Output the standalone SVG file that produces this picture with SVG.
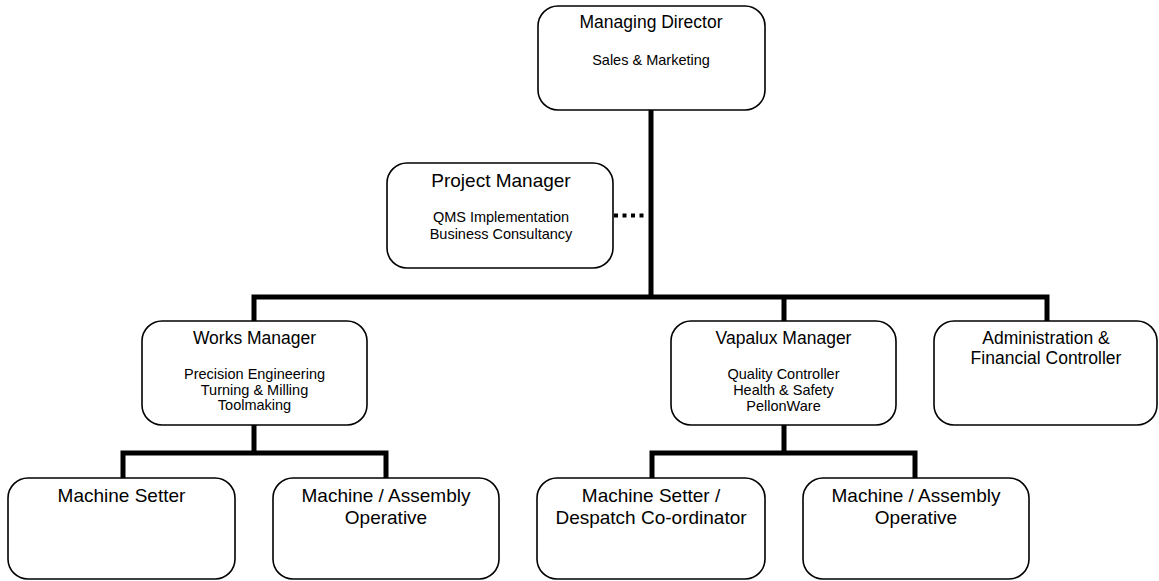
<svg xmlns="http://www.w3.org/2000/svg" width="1159" height="581" viewBox="0 0 1159 581">
  <style>
    .box { fill: #ffffff; stroke: #000000; stroke-width: 1.6; }
    .link { fill: none; stroke: #000000; stroke-width: 5; stroke-linejoin: miter; stroke-linecap: square; }
    .dots { fill: none; stroke: #000000; stroke-width: 4; stroke-dasharray: 4 4.5; }
    text { font-family: "Liberation Sans", Arial, sans-serif; fill: #000000; text-anchor: middle; }
    .t { font-size: 17.5px; }
    .tl { font-size: 19px; }
    .s { font-size: 14.5px; }
  </style>
  <rect width="1159" height="581" fill="#ffffff"/>

  <!-- reporting lines -->
  <g id="connectors">
    <path class="link" d="M651 110 V297 M254 321 V297 H1047 V321 M784 297 V321"/>
    <path class="link" d="M254 425 V453 M123 478 V453 H386 V478"/>
    <path class="link" d="M784 425 V453 M652 478 V453 H915 V478"/>
    <line class="dots" x1="614" y1="215.5" x2="648" y2="215.5"/>
  </g>

  <g id="managing-director">
    <rect class="box" x="538" y="6" width="227" height="104" rx="20"/>
    <text class="t" x="651" y="28">Managing Director</text>
    <text class="s" x="651" y="65">Sales &amp; Marketing</text>
  </g>

  <g id="project-manager">
    <rect class="box" x="387" y="163" width="226" height="105" rx="20"/>
    <text class="tl" x="501" y="187">Project Manager</text>
    <text class="s" x="501" y="222">QMS Implementation</text>
    <text class="s" x="501" y="239">Business Consultancy</text>
  </g>

  <g id="works-manager">
    <rect class="box" x="142" y="321" width="225" height="104" rx="20"/>
    <text class="t" x="254.5" y="344">Works Manager</text>
    <text class="s" x="254.5" y="379">Precision Engineering</text>
    <text class="s" x="254.5" y="395">Turning &amp; Milling</text>
    <text class="s" x="254.5" y="410">Toolmaking</text>
  </g>

  <g id="vapalux-manager">
    <rect class="box" x="671" y="321" width="225" height="104" rx="20"/>
    <text class="t" x="783.5" y="344">Vapalux Manager</text>
    <text class="s" x="783.5" y="379">Quality Controller</text>
    <text class="s" x="783.5" y="395">Health &amp; Safety</text>
    <text class="s" x="783.5" y="411">PellonWare</text>
  </g>

  <g id="administration">
    <rect class="box" x="934" y="321" width="223" height="104" rx="20"/>
    <text class="t" x="1046" y="344">Administration &amp;</text>
    <text class="t" x="1046" y="364">Financial Controller</text>
  </g>

  <g id="machine-setter">
    <rect class="box" x="8" y="478" width="227" height="101" rx="20"/>
    <text class="tl" x="121.5" y="502">Machine Setter</text>
  </g>

  <g id="assembly-operative-works">
    <rect class="box" x="273" y="478" width="226" height="101" rx="20"/>
    <text class="tl" x="386" y="502">Machine / Assembly</text>
    <text class="tl" x="386" y="524">Operative</text>
  </g>

  <g id="setter-despatch">
    <rect class="box" x="537" y="478" width="228" height="101" rx="20"/>
    <text class="tl" x="651" y="502">Machine Setter /</text>
    <text class="tl" x="651" y="524">Despatch Co-ordinator</text>
  </g>

  <g id="assembly-operative-vapalux">
    <rect class="box" x="803" y="478" width="226" height="101" rx="20"/>
    <text class="tl" x="916" y="502">Machine / Assembly</text>
    <text class="tl" x="916" y="524">Operative</text>
  </g>
</svg>
